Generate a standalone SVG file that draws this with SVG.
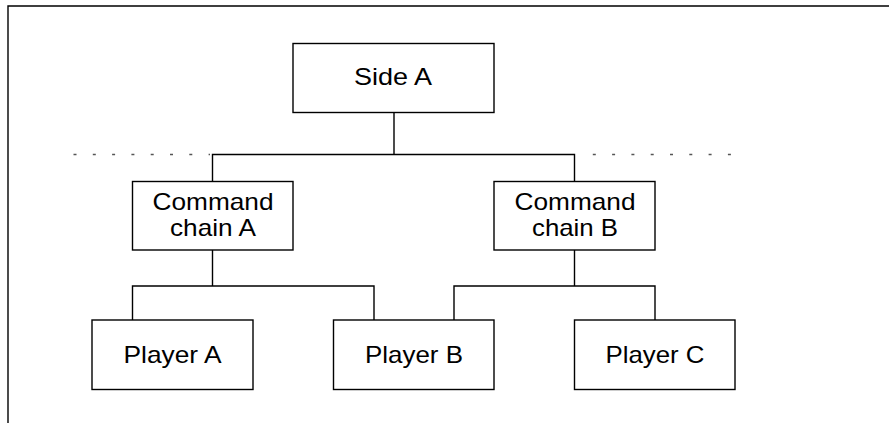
<svg xmlns="http://www.w3.org/2000/svg" width="889" height="423" viewBox="0 0 889 423">
<style>
.box{fill:#fff;stroke:#000;stroke-width:1.4}
.ln{fill:none;stroke:#000;stroke-width:1.4}
.dot{fill:none;stroke:#555;stroke-width:1.3;stroke-dasharray:3 16.3}
text{font-family:"Liberation Sans",Arial,sans-serif;font-size:24px;fill:#000;text-anchor:middle}
</style>
<rect width="889" height="423" fill="#fff"/>
<g id="frame"><path class="ln" d="M8,423 V6 H889"/></g>
<g id="separator">
<path class="dot" d="M73.5,154.5 H210"/>
<path class="dot" d="M592.8,154.5 H733"/>
</g>
<g id="connectors">
<path class="ln" d="M394,112.5 V154.5 M212.5,181.5 V154.5 H574.5 V181.5"/>
<path class="ln" d="M212.5,250 V286 M132.5,320 V286 H374 V320"/>
<path class="ln" d="M574.5,250 V286 M454,320 V286 H655 V320"/>
</g>
<g id="side-a">
<rect class="box" x="293" y="43.5" width="201" height="69"/>
<text x="393" y="85" textLength="78" lengthAdjust="spacingAndGlyphs">Side A</text>
</g>
<g id="command-chain-a">
<rect class="box" x="132.5" y="181.5" width="160.5" height="68.5"/>
<text x="213" y="209.5" textLength="121" lengthAdjust="spacingAndGlyphs">Command</text>
<text x="213" y="236" textLength="86" lengthAdjust="spacingAndGlyphs">chain A</text>
</g>
<g id="command-chain-b">
<rect class="box" x="494" y="181.5" width="161" height="68.5"/>
<text x="575" y="209.5" textLength="121" lengthAdjust="spacingAndGlyphs">Command</text>
<text x="575" y="236" textLength="86" lengthAdjust="spacingAndGlyphs">chain B</text>
</g>
<g id="player-a">
<rect class="box" x="92" y="320" width="161" height="69.5"/>
<text x="172.5" y="362.5" textLength="98" lengthAdjust="spacingAndGlyphs">Player A</text>
</g>
<g id="player-b">
<rect class="box" x="333.5" y="320" width="160.5" height="69.5"/>
<text x="414" y="362.5" textLength="98" lengthAdjust="spacingAndGlyphs">Player B</text>
</g>
<g id="player-c">
<rect class="box" x="574.5" y="320" width="160.5" height="69.5"/>
<text x="655" y="362.5" textLength="99" lengthAdjust="spacingAndGlyphs">Player C</text>
</g>
</svg>
